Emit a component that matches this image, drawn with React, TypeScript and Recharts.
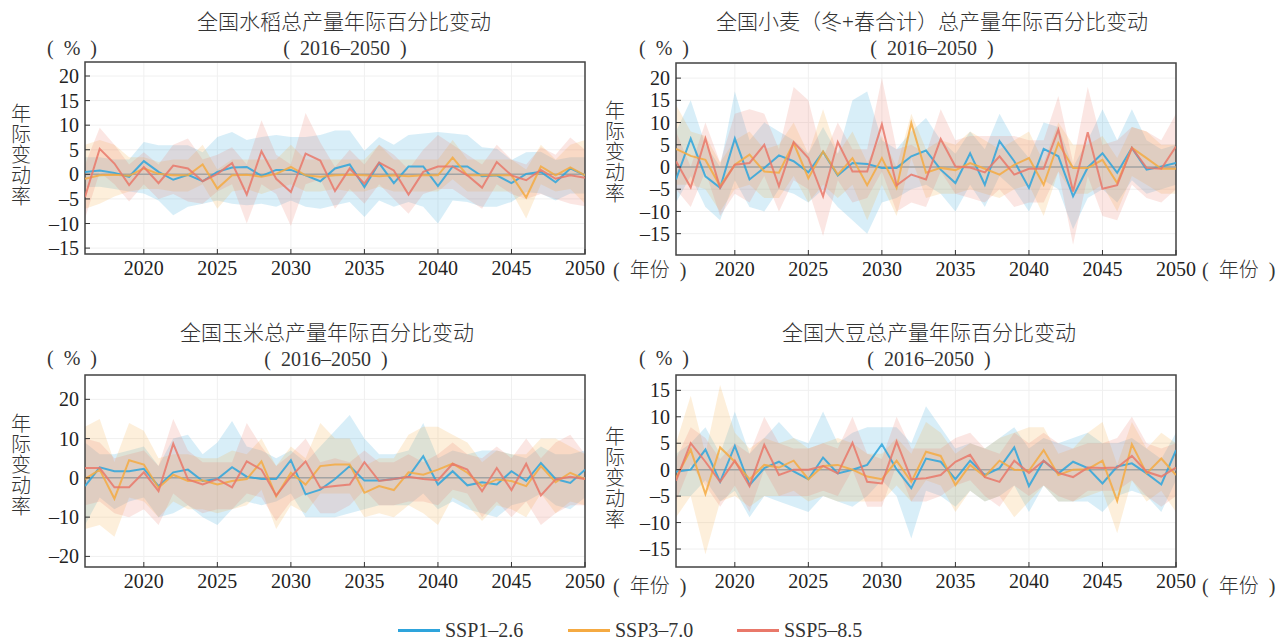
import { ComposedChart, Area, Line, XAxis, YAxis, CartesianGrid, ReferenceLine, ReferenceArea } from 'recharts';

// years 2016-2050
const years = [
  2016, 2017, 2018, 2019, 2020, 2021, 2022, 2023, 2024, 2025, 2026, 2027, 2028, 2029, 2030, 2031, 2032, 2033,
  2034, 2035, 2036, 2037, 2038, 2039, 2040, 2041, 2042, 2043, 2044, 2045, 2046, 2047, 2048, 2049, 2050,
];
const xTicks = [2020, 2025, 2030, 2035, 2040, 2045, 2050];

// rice
const rice126 = [0.5, 0.8, 0.3, -0.5, 2.7, 0.5, -1.1, -0.1, -1.4, 0.5, 1.4, 1.5, -0.3, 0.9, 0.9, -0.2, -1.4, 1.2, 2.0, -2.6, 2.3, -1.8, 1.6, 1.6, -2.4, 1.6, 1.6, -0.4, -0.2, -1.8, 0.1, 0.5, -1.6, 1.2, -0.2];
const rice126Low = [-2.6, -2.5, -3, -3.5, -3.9, -5.3, -8.3, -6.6, -6, -5.3, -6, -6.3, -6, -6.6, -5.3, -6.6, -7, -6.3, -5.6, -8.7, -5.3, -6.6, -5.6, -6.6, -10, -5.3, -5.6, -6.6, -6.6, -5.6, -3.6, -3.9, -5.3, -3.9, -3.9];
const rice126High = [3.5, 3.5, 3, 3, 6.6, 5.9, 5.9, 5.9, 4.5, 7.6, 8.6, 7, 7.6, 8, 7.6, 7.6, 8, 8.9, 8.9, 4.8, 7.6, 6, 8, 8.3, 8.6, 8.3, 8, 5.5, 5.2, 2.9, 4.5, 4.6, 2.9, 3.5, 3.5];
const rice370 = [-0.9, -0.2, -0.1, -0.3, 1.2, 0.1, -0.2, -0.2, 2.0, -2.9, -0.2, -0.1, -0.5, 0.1, 1.5, -0.2, -0.5, -0.2, -0.1, -0.2, -0.4, -0.2, -0.4, -0.2, -0.2, 3.4, -0.2, -0.2, -0.2, -0.2, -4.7, 1.6, -0.2, 1.4, -0.2];
const rice370Low = [-7, -6, -4.5, -3.5, -3, -3, -3.5, -3.5, -2, -7, -3.5, -3, -4, -3, -2, -3.5, -3.5, -3, -3.5, -3.5, -2.5, -3.5, -3.5, -3.5, -3.5, -1, -3.5, -3.5, -3.5, -3.5, -9, -2, -3.5, -3, -6];
const rice370High = [6, 7, 6, 3.5, 3.5, 2.5, 3, 3, 6, 1, 3, 3, 3, 3, 6, 3, 3, 3, 3, 3, 6, 3, 3, 3, 3, 7, 3, 3, 3, 3, 1, 6, 3, 6, 7];
const rice585 = [-4.6, 5.2, 2.2, -2.2, 1.5, -1.8, 1.8, 1.2, -1.4, 0.1, 2.3, -4.1, 4.7, -0.9, -3.6, 4.2, 2.8, -3.4, 1.2, -1.9, 2.4, 0.8, -4.1, 0.5, 1.6, 1.6, -0.2, -2.7, 2.5, -0.2, -1.2, 0.9, -0.9, -0.2, -0.7];
const rice585Low = [-9, 0.5, -2, -5.5, -2, -5, -4, -5.5, -6, -3.5, -2, -10, -2, -4, -10.5, -2, -1, -7, -3, -6, -2, -5, -8, -4, -3, -3, -5, -7, -2, -4, -5, -4, -5, -6, -6.5];
const rice585High = [2, 9.5, 6, 2, 4.5, 2, 6, 7.3, 3, 4, 5.5, 2, 11, 4, 2, 12.5, 6.5, 1.5, 5, 2, 6, 4, 1, 5, 8, 6, 4, 2, 6, 3, 2, 5.5, 4, 7.5, 5];

// wheat
const wheat126 = [-2.8, 6.4, -2.1, -4.7, 6.4, -2.8, -0.2, 2.6, 1.3, -1.2, 3.4, -1.9, 0.9, 0.7, -0.2, -0.2, 2.4, 3.7, -0.6, -3.6, 3.1, -4.0, 5.8, 1.3, -4.7, 4.1, 2.4, -6.6, -0.1, 3.1, -1.3, 4.3, -0.6, 0.1, 0.9];
const wheat126Low = [-8, -2, -9, -12, -3, -9, -10, -5, -6, -8, -5, -9, -12, -15, -8, -7, -5, -4, -6, -10, -4, -9, -2, -5, -10, -3, -5, -14, -7, -5, -8, -3, -6, -5, -4];
const wheat126High = [8, 15, 5, 0, 17, 6, 10, 8, 6, 3, 9, 3, 15, 17, 6, 4, 8, 11, 6, 3, 8, 4, 12, 6, 2, 10, 9, 0, 6, 13, 6, 13, 6, 4, 5];
const wheat370 = [4.1, 2.5, 1.6, -4.3, 0.5, 2.8, -1.0, -1.3, 5.4, -2.5, 3.5, -1.7, 2.0, -4.1, 2.0, -4.7, 9.9, -1.3, -0.2, -0.7, 0.9, -0.4, -1.7, 0.5, 2.0, -4.0, 5.4, -0.2, -0.2, 1.6, -3.6, 4.3, 2.0, -0.4, -0.4];
const wheat370Low = [-4, -4, -5, -10, -5, -4, -7, -7, -2, -8, -4, -7, -4, -12, -4, -11, 2, -7, -6, -6, -5, -6, -7, -5, -4, -11, -1, -6, -6, -4, -10, -2, -4, -6, -6];
const wheat370High = [14, 8, 7, 1, 6, 8, 4, 5, 10, 3, 13, 3, 8, 1, 7, 0, 12, 4, 6, 5, 8, 6, 4, 6, 8, 1, 10, 5, 5, 7, 2, 9, 8, 5, 5];
const wheat585 = [1.3, -4.6, 6.4, -4.7, 0.5, 0.9, 5.0, -4.3, 5.6, 2.0, -6.6, 5.6, -1.0, -1.0, 9.6, -4.1, -1.7, -2.8, 6.3, 0.1, -0.1, -1.2, 2.4, -1.7, -0.4, -0.4, 8.4, -5.5, 7.8, -4.9, -4.1, 4.3, -0.2, -0.4, 4.6];
const wheat585Low = [-5, -9, -1, -11, -6, -8, -2, -10, -3, -5, -15.5, -3, -8, -7, -1, -10, -8, -9, -1, -6, -7, -8, -5, -9, -8, -8, -1, -17.5, -2, -11, -12, -4, -7, -8, -5];
const wheat585High = [8, 0, 10, 1, 12, 13, 12, 4, 18, 15, 2, 10, 4, 4, 20, 4, 5, 3, 13, 6, 7, 7, 7, 7, 6, 6, 16, 1, 18, 5, 6, 9, 8, 6, 12];

// maize
const maize126 = [-2.1, 2.7, 1.7, 1.7, 2.3, -2.1, 1.4, 2.1, -0.8, -0.3, 2.7, 0.3, -0.3, -0.3, 4.5, -4.2, -3.0, -0.3, 3.0, -0.7, -0.7, -0.3, 0.3, 5.5, -1.7, 1.7, -1.9, -1.1, -1.7, 1.7, -0.8, 3.8, -0.3, -1.3, 2.1];
const maize126Low = [-12, -5, -8, -6, -5, -10, -9, -7, -10, -12, -8, -6, -7, -6, -4, -10, -10, -10, -9, -8, -7, -7, -7, -4, -8, -6, -8, -9, -10, -7, -6, -4, -7, -8, -5];
const maize126High = [9, 6, 6, 7, 8, 3, 10, 11, 6, 9, 14.5, 8, 7, 5, 7, 4, 8, 12, 16, 10, 6, 6, 7, 14, 5, 7, 6, 7, 7, 6, 5, 8, 6, 6, 7];
const maize370 = [-0.3, 2.1, -5.3, 4.5, 3.4, -2.5, 0.8, -0.8, -0.6, -1.7, -0.8, -0.3, 4.2, -4.7, 1.3, -1.7, 3.0, 3.4, 3.4, -3.8, -2.1, -3.1, 1.4, 0.8, 2.1, 3.6, 1.3, -2.1, -0.4, -0.8, -2.1, 3.0, -1.1, 1.3, -0.3];
const maize370Low = [-13, -12, -15, -5, -6, -10, -6, -8, -8, -9, -8, -7, -3, -13, -7, -9, -4, -4, -4, -10, -9, -10, -7, -9, -12, -5, -7, -11, -7, -8, -10, -4, -9, -6, -7];
const maize370High = [13, 15, 4, 14, 12, 5, 6, 6, 5, 5, 7, 6, 10, 3, 8, 5, 14, 10, 10, 3, 5, 5, 11, 13, 13, 11, 9, 4, 7, 6, 6, 10, 10, 8, 6];
const maize585 = [2.5, 2.5, -2.4, -2.4, 1.4, -3.4, 8.7, -0.4, -1.7, -0.3, -2.4, 4.2, 2.1, -4.5, 0.3, 4.2, -2.5, -2.1, -1.7, 4.0, -0.8, -0.3, 0.3, -0.3, -0.6, 3.6, 2.1, -3.4, 2.5, -3.1, 3.6, -4.5, -0.4, 0.3, -0.3];
const maize585Low = [-7, -6, -9, -10, -8, -12, -4, -7, -9, -8, -8, -4, -5, -11, -6, -4, -9, -9, -7, -3, -7, -7, -6, -6, -7, -3, -4, -10, -6, -10, -6, -12, -9, -7, -7];
const maize585High = [10, 9, 5, 6, 7, 3, 15, 7, 4, 4, 4, 14, 8, 3, 6, 10, 4, 5, 4, 7, 4, 4, 6, 4, 6, 9, 6, 5, 8, 5, 10, 5, 9, 11, 6];

// soybean
const soy126 = [-0.4, 0.0, 3.8, -2.3, 4.5, -2.9, 0.3, 1.5, -0.3, -1.8, 2.3, -0.7, 0.0, 0.9, 4.8, 0.1, -3.5, 2.1, 1.5, -1.8, 1.7, -1.0, 0.3, 4.2, -3.1, 1.7, -0.7, 1.5, 0.3, -2.6, 0.6, 1.2, -0.7, -2.8, 3.7];
const soy126Low = [-5, -5, -2, -6, -4, -9, -5, -6, -7, -8, -5, -6, -7, -5, -2, -5, -13, -4, -5, -7, -4, -6, -5, -3, -8, -3, -6, -6, -6, -8, -5, -4, -5, -8, -2];
const soy126High = [3, 5, 8, 3, 11, 3, 6, 9, 6, 5, 11, 5, 7, 8, 8, 8, 5, 12, 8, 4, 5, 4, 6, 8, 4, 6, 5, 6, 7, 5, 5, 6, 4, 2, 7];
const soy370 = [-1.6, 3.8, -4.6, 4.2, 1.5, -1.8, 0.9, 0.4, 1.7, -1.8, 0.7, 0.9, 0.0, -1.3, -1.8, 1.7, -2.3, 3.4, 2.6, -2.9, 0.9, -1.3, 1.7, 0.0, -0.2, 3.7, -1.0, 0.0, 0.1, 1.7, -5.9, 4.8, -0.7, 2.1, -1.0];
const soy370Low = [-9, -5, -16, -6, -5, -7, -5, -5, -4, -6, -5, -6, -6, -6, -6, -3, -6, -2, -3, -8, -4, -6, -5, -9, -6, -3, -6, -6, -5, -4, -12, -2, -6, -4, -8];
const soy370High = [5, 14, 3, 16, 7, 4, 6, 5, 6, 4, 5, 6, 5, 3, 3, 6, 3, 9, 7, 3, 5, 4, 6, 7, 8, 8, 3, 4, 7, 9, 1, 9, 4, 7, 5];
const soy585 = [-2.1, 5.0, 1.5, -2.3, 1.7, -3.1, 4.7, -1.0, 0.0, 0.0, 0.7, -0.7, 5.1, -2.3, -2.6, 5.3, -1.8, -1.6, -1.0, 1.5, 2.8, -1.4, -2.3, 1.7, -0.6, 1.7, -0.6, -1.4, 0.4, 0.3, 0.4, 2.6, -0.4, -1.3, 0.4];
const soy585Low = [-6, 1, -3, -7, -3, -8, 0, -5, -5, -5, -4, -5, 0, -7, -7, 1, -6, -6, -5, -3, -2, -5, -7, -3, -5, -3, -5, -6, -4, -4, -4, -2, -5, -7, -5];
const soy585High = [2, 8, 6, 2, 5, 3, 10, 5, 4, 4, 5, 4, 10, 3, 2, 10, 4, 4, 4, 6, 7, 4, 3, 7, 5, 7, 5, 4, 5, 5, 6, 10, 5, 4, 5];

const BLUE = '#2ea4dc';
const ORANGE = '#f5aa42';
const RED = '#e9786a';
const NUM_FONT = '"Liberation Serif", "Times New Roman", serif';
const CJK_FONT = '"Liberation Serif", "Noto Sans CJK SC", serif';

const PW = 500;
const PH = 192;
const YW = 50;
const XH = 40;
const MT = 5;
const MR = 30;

const buildRows = (m1: number[], l1: number[], h1: number[], m3: number[], l3: number[], h3: number[], m5: number[], l5: number[], h5: number[]) =>
  years.map((year, i) => ({
    year,
    s1: m1[i],
    s1Band: [l1[i], h1[i]],
    s3: m3[i],
    s3Band: [l3[i], h3[i]],
    s5: m5[i],
    s5Band: [l5[i], h5[i]],
  }));

const fmt = (v: number) => (v < 0 ? '\u2013' + Math.abs(v) : String(v));

const Panel = ({ rows, domain, ticks, left, top }: { rows: any[]; domain: [number, number]; ticks: number[]; left: number; top: number }) => (
  <div style={{ position: 'absolute', left: left - YW, top: top - MT }}>
    <ComposedChart width={YW + PW + MR} height={MT + PH + XH} data={rows} margin={{ top: MT, right: MR, bottom: 0, left: 0 }}>
      <CartesianGrid stroke="#f0f0f0" strokeWidth={1} />
      <XAxis
        dataKey="year"
        type="number"
        domain={[2016, 2050]}
        ticks={xTicks}
        allowDataOverflow
        interval={0}
        height={XH}
        axisLine={false}
        tickSize={-5}
        tickMargin={12}
        tickLine={{ stroke: '#333' }}
        tick={{ fill: '#222', fontSize: 20, fontFamily: NUM_FONT }}
      />
      <YAxis
        type="number"
        domain={domain}
        ticks={ticks}
        allowDataOverflow
        interval={0}
        width={YW}
        axisLine={false}
        tickSize={-5}
        tickMargin={11}
        tickLine={{ stroke: '#333' }}
        tickFormatter={fmt}
        tick={{ fill: '#222', fontSize: 20, fontFamily: NUM_FONT }}
      />
      <Area type="linear" dataKey="s1Band" stroke="none" fill={BLUE} fillOpacity={0.19} isAnimationActive={false} />
      <Area type="linear" dataKey="s3Band" stroke="none" fill={ORANGE} fillOpacity={0.19} isAnimationActive={false} />
      <Area type="linear" dataKey="s5Band" stroke="none" fill={RED} fillOpacity={0.19} isAnimationActive={false} />
      <ReferenceLine y={0} stroke="#a3a3a3" strokeWidth={1.5} />
      <Line type="linear" dataKey="s1" stroke={BLUE} strokeOpacity={0.85} strokeWidth={2} dot={false} isAnimationActive={false} />
      <Line type="linear" dataKey="s3" stroke={ORANGE} strokeOpacity={0.85} strokeWidth={2} dot={false} isAnimationActive={false} />
      <Line type="linear" dataKey="s5" stroke={RED} strokeOpacity={0.85} strokeWidth={2} dot={false} isAnimationActive={false} />
      <ReferenceArea x1={2016} x2={2050} y1={domain[0]} y2={domain[1]} fill="none" stroke="#444" strokeWidth={1.5} ifOverflow="visible" />
    </ComposedChart>
  </div>
);

const Label = ({ text, x, y, size = 20, center = true }: { text: string; x: number; y: number; size?: number; center?: boolean }) => (
  <div
    style={{
      position: 'absolute',
      left: x,
      top: y,
      transform: center ? 'translate(-50%, -50%)' : 'translateY(-50%)',
      whiteSpace: 'pre',
      fontFamily: CJK_FONT,
      fontSize: size,
      fontWeight: 300,
      color: '#333',
      lineHeight: 1,
    }}
  >
    {text}
  </div>
);

const YTitle = ({ x, y }: { x: number; y: number }) => (
  <div style={{ position: 'absolute', left: x, top: y, transform: 'translateX(-50%)', fontFamily: CJK_FONT, fontSize: 20, fontWeight: 300, color: '#333' }}>
    {'年际变动率'.split('').map((c, i) => (
      <div key={i} style={{ lineHeight: '20.7px' }}>{c}</div>
    ))}
  </div>
);

const legendItems = [
  { name: 'SSP1\u20132.6', color: BLUE, x: 398 },
  { name: 'SSP3\u20137.0', color: ORANGE, x: 568 },
  { name: 'SSP5\u20138.5', color: RED, x: 737 },
];

const PERIOD = '(\u20022016\u20132050\u2002)';
const PCT = '(\u2002%\u2002)';
const YEAR_UNIT = '(\u2002年份\u2002)';

export default function App() {
  const rice = buildRows(rice126, rice126Low, rice126High, rice370, rice370Low, rice370High, rice585, rice585Low, rice585High);
  const wheat = buildRows(wheat126, wheat126Low, wheat126High, wheat370, wheat370Low, wheat370High, wheat585, wheat585Low, wheat585High);
  const maize = buildRows(maize126, maize126Low, maize126High, maize370, maize370Low, maize370High, maize585, maize585Low, maize585High);
  const soy = buildRows(soy126, soy126Low, soy126High, soy370, soy370Low, soy370High, soy585, soy585Low, soy585High);

  return (
    <div style={{ position: 'absolute', left: 0, top: 0, width: 1279, height: 641, background: '#fff', overflow: 'hidden' }}>
      <Panel rows={rice} domain={[-16.2, 22.85]} ticks={[-15, -10, -5, 0, 5, 10, 15, 20]} left={84.5} top={62} />
      <Panel rows={wheat} domain={[-19.8, 23.4]} ticks={[-15, -10, -5, 0, 5, 10, 15, 20]} left={675.5} top={62.5} />
      <Panel rows={maize} domain={[-22.7, 26.2]} ticks={[-20, -10, 0, 10, 20]} left={84.5} top={375} />
      <Panel rows={soy} domain={[-18.4, 17.9]} ticks={[-15, -10, -5, 0, 5, 10, 15]} left={675.5} top={375} />

      <Label text="全国水稻总产量年际百分比变动" x={344} y={22} size={21} />
      <Label text={PERIOD} x={345} y={48} />
      <Label text={PCT} x={72} y={48} />
      <YTitle x={21} y={104} />
      <Label text={YEAR_UNIT} x={613} y={270} center={false} />

      <Label text="全国小麦（冬+春合计）总产量年际百分比变动" x={932} y={22} size={21} />
      <Label text={PERIOD} x={932} y={48} />
      <Label text={PCT} x={664} y={48} />
      <YTitle x={615} y={101} />
      <Label text={YEAR_UNIT} x={1202} y={270} center={false} />

      <Label text="全国玉米总产量年际百分比变动" x={327} y={333} size={21} />
      <Label text={PERIOD} x={326} y={359} />
      <Label text={PCT} x={72} y={358} />
      <YTitle x={21} y={414} />
      <Label text={YEAR_UNIT} x={613} y={586} center={false} />

      <Label text="全国大豆总产量年际百分比变动" x={929} y={333} size={21} />
      <Label text={PERIOD} x={929} y={359} />
      <Label text={PCT} x={664} y={358} />
      <YTitle x={615} y={427} />
      <Label text={YEAR_UNIT} x={1202} y={586} center={false} />

      {legendItems.map((it) => (
        <div key={it.name}>
          <div style={{ position: 'absolute', left: it.x, top: 629, width: 42, height: 2.5, background: it.color }} />
          <div style={{ position: 'absolute', left: it.x + 47, top: 630, transform: 'translateY(-50%)', fontFamily: NUM_FONT, fontSize: 20, color: '#333', lineHeight: 1 }}>
            {it.name}
          </div>
        </div>
      ))}
    </div>
  );
}
